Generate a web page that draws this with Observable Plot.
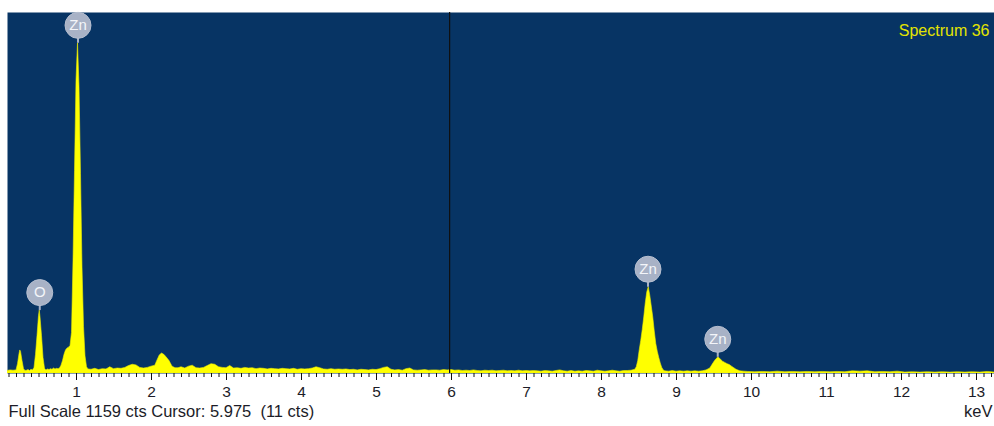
<!DOCTYPE html>
<html><head><meta charset="utf-8">
<script src="https://cdn.jsdelivr.net/npm/d3@7"></script>
<script src="https://cdn.jsdelivr.net/npm/@observablehq/plot@0.6"></script>
<style>html,body{margin:0;padding:0;background:#fff;overflow:hidden}</style>
</head><body><div id="chart"></div>
<script>
// EDS spectrum (keV vs counts)
const energy = [
  0.08,0.12,0.16,0.20,0.22,0.24,0.25,0.26,0.28,0.30,0.32,0.34,0.36,0.38,0.40,0.42,0.44,0.46,0.48,0.50,
  0.51,0.52,0.54,0.56,0.58,0.60,0.62,0.64,0.66,0.68,0.70,0.72,0.74,0.76,0.78,0.80,0.82,0.84,0.86,0.88,
  0.90,0.92,0.94,0.96,0.98,1.00,1.02,1.04,1.06,1.08,1.10,1.12,1.14,1.16,1.20,1.25,1.30,1.35,1.40,1.45,
  1.50,1.55,1.60,1.65,1.70,1.75,1.80,1.85,1.90,1.95,2.00,2.05,2.08,2.11,2.14,2.17,2.20,2.24,2.28,2.32,
  2.36,2.40,2.45,2.50,2.55,2.60,2.65,2.70,2.75,2.80,2.85,2.90,2.95,3.00,3.05,3.10,3.15,3.20,3.25,3.30,
  3.35,3.40,3.45,3.50,3.55,3.60,3.65,3.70,3.75,3.80,3.85,3.90,3.95,4.00,4.05,4.10,4.15,4.20,4.25,4.30,
  4.35,4.40,4.45,4.50,4.55,4.60,4.65,4.70,4.75,4.80,4.85,4.90,4.95,5.00,5.05,5.10,5.15,5.20,5.25,5.30,
  5.35,5.40,5.45,5.50,5.55,5.60,5.65,5.70,5.75,5.80,5.85,5.90,5.95,6.00,6.05,6.10,6.15,6.20,6.25,6.30,
  6.35,6.40,6.45,6.50,6.55,6.60,6.65,6.70,6.75,6.80,6.85,6.90,6.95,7.00,7.05,7.10,7.15,7.20,7.25,7.30,
  7.35,7.40,7.45,7.50,7.55,7.60,7.65,7.70,7.75,7.80,7.85,7.90,7.95,8.00,8.05,8.10,8.15,8.20,8.25,8.30,
  8.35,8.40,8.45,8.47,8.49,8.51,8.53,8.55,8.57,8.59,8.61,8.63,8.65,8.67,8.69,8.71,8.73,8.75,8.77,8.79,
  8.81,8.83,8.85,8.90,8.95,9.00,9.05,9.10,9.15,9.20,9.25,9.30,9.35,9.40,9.45,9.50,9.53,9.56,9.59,9.62,
  9.65,9.68,9.71,9.74,9.77,9.80,9.85,9.90,9.95,10.05,10.15,10.25,10.35,10.45,10.55,10.65,10.75,10.85,10.95,11.05,
  11.15,11.25,11.35,11.45,11.55,11.65,11.75,11.85,11.95,12.05,12.15,12.25,12.35,12.45,12.55,12.65,12.75,12.85,12.95,13.05,
  13.15,13.24
];
const counts = [
  8,10,9,10,30,62,74,70,40,14,8,9,11,8,12,10,18,60,120,185,
  202,180,120,50,15,10,13,11,14,12,16,13,15,14,16,25,40,60,74,80,
  83,88,130,360,650,940,1060,920,640,340,150,55,20,13,12,15,11,14,13,20,
  14,16,15,18,24,28,26,18,16,18,22,25,42,58,64,60,52,40,22,17,
  17,20,16,22,25,17,16,18,24,30,28,20,18,17,24,16,17,15,18,16,
  17,14,16,15,13,15,14,13,15,14,13,15,12,14,13,14,16,20,17,13,
  12,14,12,13,12,13,11,12,10,12,11,10,12,11,14,18,20,12,10,11,
  9,14,16,10,9,10,11,9,10,10,9,11,10,11,9,10,8,9,8,10,
  8,7,9,8,9,7,8,9,7,8,7,9,7,8,7,8,7,6,8,7,
  6,8,10,7,6,8,6,7,6,8,7,6,9,7,6,7,9,7,6,8,
  8,9,12,20,40,75,105,140,180,225,260,277,250,215,180,135,95,70,50,32,
  18,10,7,6,8,6,7,6,7,6,7,6,7,10,16,35,45,52,45,38,
  34,30,27,22,17,12,7,6,5,4,5,4,6,4,5,4,5,4,5,4,
  5,4,7,6,7,4,5,4,6,3,4,3,4,3,4,3,4,3,4,3,
  5,3
];

// peak identification labels
const labelElement = ["O", "Zn", "Zn", "Zn"];
const labelEnergy = [0.51, 1.02, 8.62, 9.55];
const labelCount = [202, 1060, 277, 52];

// axis ticks
const majorTicks = [1, 2, 3, 4, 5, 6, 7, 8, 9, 10, 11, 12, 13];
const minorTicks = d3.range(1, 133).filter(i => i % 10 !== 0).map(i => i / 10);

// texts
const spectrumTitle = "Spectrum 36";
const statusText = "Full Scale 1159 cts Cursor: 5.975 \u00a0(11 cts)";
const unitText = "keV";
const cursorEnergy = [5.975];
const fullScale = 1159;

const spectrum = energy.map((e, i) => ({energy: e, counts: counts[i]}));
const peaks = labelElement.map((el, i) => ({element: el, energy: labelEnergy[i], counts: labelCount[i]}));

const chart = Plot.plot({
  width: 994,
  height: 426,
  marginTop: 12,
  marginBottom: 53,
  marginLeft: 7,
  marginRight: 0,
  x: {domain: [0.08, 13.24], label: null},
  y: {domain: [0, fullScale], axis: null},
  style: {fontFamily: "'Liberation Sans', Arial, sans-serif", fontSize: "16px", background: "#fff", color: "#222"},
  marks: [
    Plot.frame({fill: "#073464"}),
    Plot.areaY(spectrum, {x: "energy", y: "counts", fill: "#ffff00", stroke: "#eeee00", strokeWidth: 0.6, clip: true}),
    Plot.ruleX(cursorEnergy, {stroke: "#101010", strokeWidth: 1.2}),
    Plot.ruleX(peaks, {x: "energy", y1: "counts", y2: "counts", insetBottom: 6, stroke: "#a8b2c6", strokeWidth: 2}),
    Plot.dot(peaks, {x: "energy", y: "counts", dy: -18, r: 13, fill: "#a8b2c6", stroke: "#b6bfd0", strokeWidth: 1}),
    Plot.text(peaks, {x: "energy", y: "counts", dy: -18, text: "element", fill: "#f3f5f9", fontSize: 15}),
    Plot.axisX(minorTicks, {tickSize: 4, fill: "none", stroke: "#111"}),
    Plot.axisX(majorTicks, {tickSize: 7, tickPadding: 5, tickFormat: d => String(d), stroke: "#111", fill: "#1c1c28", fontSize: 15.5}),
    Plot.text([spectrumTitle], {text: d => d, frameAnchor: "top-right", textAnchor: "end", dx: -5, dy: 12, fill: "#e4e400", fontSize: 16}),
    Plot.text([statusText], {text: d => d, frameAnchor: "bottom-left", textAnchor: "start", dx: 1, dy: 43, fill: "#1c1c28", fontSize: 16.5}),
    Plot.text([unitText], {text: d => d, frameAnchor: "bottom-right", textAnchor: "end", dx: -2, dy: 43, fill: "#1c1c28", fontSize: 16.5})
  ]
});
document.getElementById("chart").append(chart);
</script></body></html>
